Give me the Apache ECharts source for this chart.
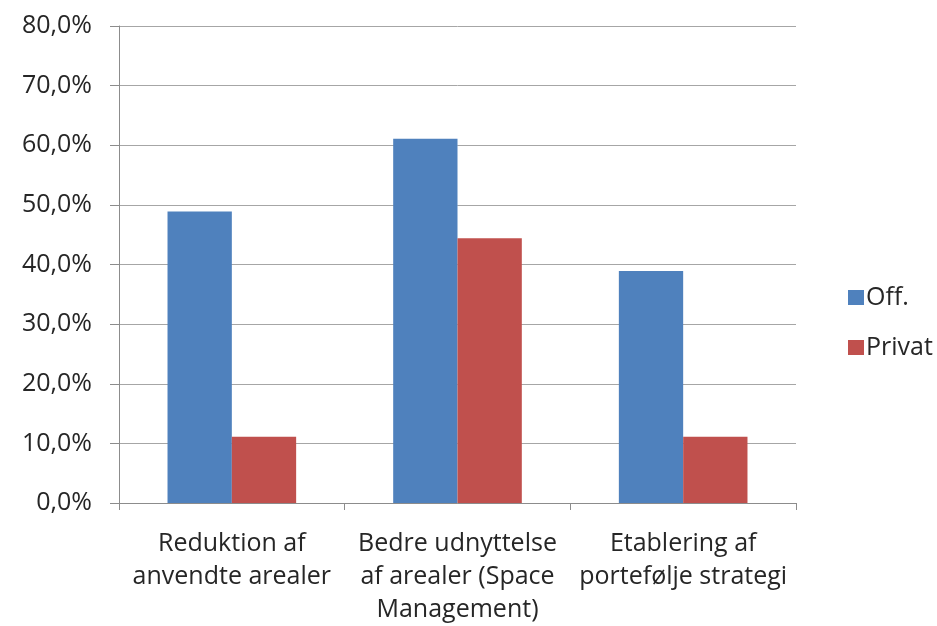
<!DOCTYPE html>
<html>
<head>
<meta charset="utf-8">
<script src="https://cdn.jsdelivr.net/npm/echarts@6/dist/echarts.min.js"></script>
<style>html,body{margin:0;padding:0;background:#fff}#c{width:937px;height:626px}</style>
</head>
<body>
<div id="c"></div>
<script>
const categories = ["Reduktion af\nanvendte arealer", "Bedre udnyttelse\naf arealer (Space\nManagement)", "Etablering af\nportefølje strategi"];
const seriesNames = ["Off.", "Privat"];
const offValues = [48.9, 61.1, 38.9];
const privatValues = [11.1, 44.4, 11.1];
const yTicks = {min: 0, max: 80, interval: 10};

const font = "'Open Sans', Lato, sans-serif";
const chart = echarts.init(document.getElementById('c'));
chart.setOption({
  animation: false,
  backgroundColor: '#fff',
  grid: {left: 119, right: 141, top: 26, bottom: 123, containLabel: false},
  legend: {
    orient: 'vertical', left: 843, top: 280,
    itemWidth: 16, itemHeight: 15, itemGap: 25, icon: 'rect',
    textStyle: {fontFamily: font, fontSize: 25, lineHeight: 25, color: '#262626', padding: [0,0,0,-3]},
    data: seriesNames
  },
  xAxis: {
    type: 'category', data: categories,
    axisLine: {lineStyle: {color: '#8c8c8c', width: 1}},
    axisTick: {show: true, length: 7, lineStyle: {color: '#8c8c8c'}},
    axisLabel: {interval: 0, fontFamily: font, fontSize: 25, color: '#262626', lineHeight: 33, margin: 24}
  },
  yAxis: {
    type: 'value', min: yTicks.min, max: yTicks.max, interval: yTicks.interval,
    axisLine: {show: true, lineStyle: {color: '#8c8c8c'}},
    axisTick: {show: true, length: 9, lineStyle: {color: '#8c8c8c'}},
    splitLine: {lineStyle: {color: '#a6a6a6', width: 1}},
    axisLabel: {fontFamily: font, fontSize: 25, color: '#262626', margin: 27,
      formatter: v => v.toFixed(1).replace('.', ',') + '%'}
  },
  series: [
    {name: seriesNames[0], type: 'bar', data: offValues, itemStyle: {color: '#4F81BD'}, barGap: '0%', barCategoryGap: '43%'},
    {name: seriesNames[1], type: 'bar', data: privatValues, itemStyle: {color: '#C0504D'}, barGap: '0%', barCategoryGap: '43%'}
  ]
});
</script>
</body>
</html>
